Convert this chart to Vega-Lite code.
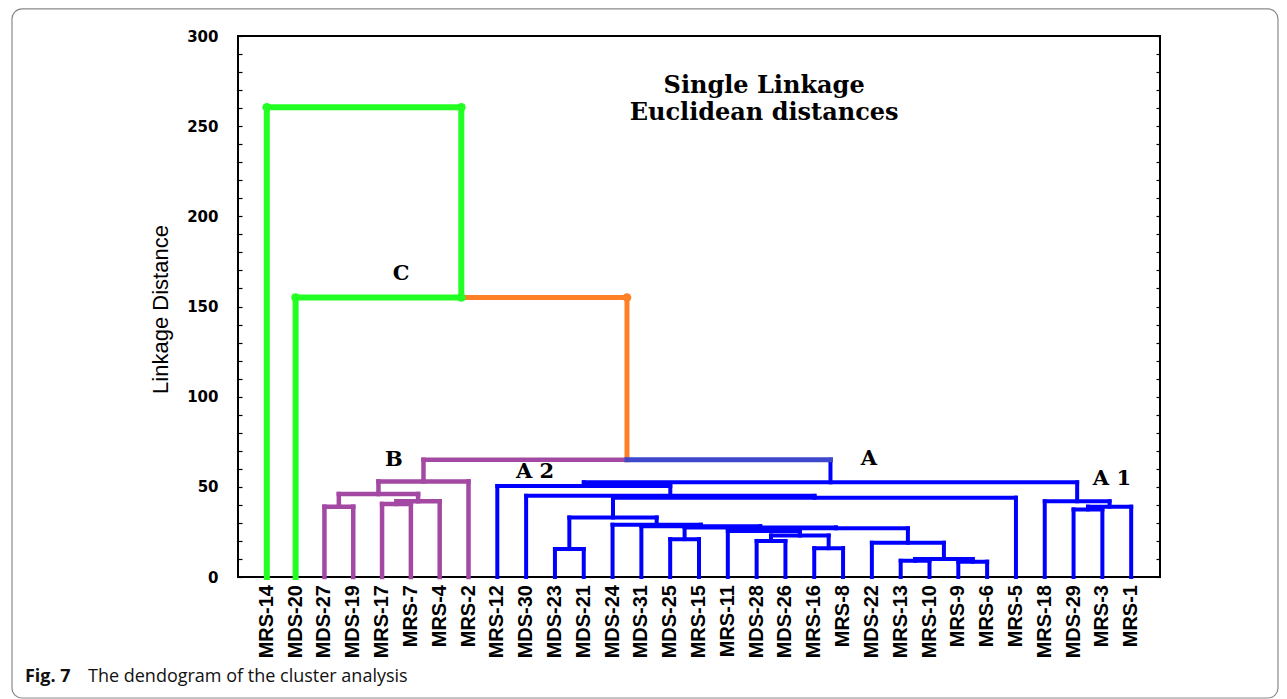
{
  "$schema": "https://vega.github.io/schema/vega-lite/v6.json",
  "width": 922,
  "height": 541,
  "autosize": {"type": "none"},
  "padding": {"left": 238, "top": 36, "right": 127, "bottom": 122},
  "background": "white",
  "config": {
    "view": {"stroke": "black", "strokeWidth": 2},
    "axis": {"grid": false, "domain": false}
  },
  "datasets": {
    "leaves": [
      {"i": 1, "name": "MRS-14"}, {"i": 2, "name": "MDS-20"}, {"i": 3, "name": "MDS-27"}, {"i": 4, "name": "MDS-19"},
      {"i": 5, "name": "MRS-17"}, {"i": 6, "name": "MRS-7"}, {"i": 7, "name": "MRS-4"}, {"i": 8, "name": "MRS-2"},
      {"i": 9, "name": "MRS-12"}, {"i": 10, "name": "MDS-30"}, {"i": 11, "name": "MDS-23"}, {"i": 12, "name": "MDS-21"},
      {"i": 13, "name": "MDS-24"}, {"i": 14, "name": "MDS-31"}, {"i": 15, "name": "MDS-25"}, {"i": 16, "name": "MRS-15"},
      {"i": 17, "name": "MRS-11"}, {"i": 18, "name": "MDS-28"}, {"i": 19, "name": "MDS-26"}, {"i": 20, "name": "MRS-16"},
      {"i": 21, "name": "MRS-8"}, {"i": 22, "name": "MDS-22"}, {"i": 23, "name": "MRS-13"}, {"i": 24, "name": "MRS-10"},
      {"i": 25, "name": "MRS-9"}, {"i": 26, "name": "MRS-6"}, {"i": 27, "name": "MRS-5"}, {"i": 28, "name": "MRS-18"},
      {"i": 29, "name": "MDS-29"}, {"i": 30, "name": "MRS-3"}, {"i": 31, "name": "MRS-1"}
    ],
    "links": [
      {"x": 1, "x2": 1, "y": 0, "y2": 260.5, "c": "green"},
      {"x": 1, "x2": 7.75, "y": 260.5, "y2": 260.5, "c": "green"},
      {"x": 7.75, "x2": 7.75, "y": 155, "y2": 260.5, "c": "green"},
      {"x": 2, "x2": 2, "y": 0, "y2": 155, "c": "green"},
      {"x": 2, "x2": 7.75, "y": 155, "y2": 155, "c": "green"},
      {"x": 7.75, "x2": 13.5, "y": 155, "y2": 155, "c": "orange"},
      {"x": 13.5, "x2": 13.5, "y": 65, "y2": 155, "c": "orange"},
      {"x": 6.4375, "x2": 13.5, "y": 65, "y2": 65, "c": "purple"},
      {"x": 6.4375, "x2": 6.4375, "y": 53, "y2": 65, "c": "purple"},
      {"x": 4.875, "x2": 8, "y": 53, "y2": 53, "c": "purple"},
      {"x": 8, "x2": 8, "y": 0, "y2": 53, "c": "purple"},
      {"x": 4.875, "x2": 4.875, "y": 46, "y2": 53, "c": "purple"},
      {"x": 3.5, "x2": 6.25, "y": 46, "y2": 46, "c": "purple"},
      {"x": 3.5, "x2": 3.5, "y": 39, "y2": 46, "c": "purple"},
      {"x": 3, "x2": 4, "y": 39, "y2": 39, "c": "purple"},
      {"x": 3, "x2": 3, "y": 0, "y2": 39, "c": "purple"},
      {"x": 4, "x2": 4, "y": 0, "y2": 39, "c": "purple"},
      {"x": 6.25, "x2": 6.25, "y": 42, "y2": 46, "c": "purple"},
      {"x": 5.5, "x2": 7, "y": 42, "y2": 42, "c": "purple"},
      {"x": 7, "x2": 7, "y": 0, "y2": 42, "c": "purple"},
      {"x": 5.5, "x2": 5.5, "y": 40.5, "y2": 42, "c": "purple"},
      {"x": 5, "x2": 6, "y": 40.5, "y2": 40.5, "c": "purple"},
      {"x": 5, "x2": 5, "y": 0, "y2": 40.5, "c": "purple"},
      {"x": 6, "x2": 6, "y": 0, "y2": 40.5, "c": "purple"},
      {"x": 13.5, "x2": 20.563, "y": 65, "y2": 65, "c": "indigo"},
      {"x": 20.563, "x2": 20.563, "y": 52.5, "y2": 65, "c": "blue"},
      {"x": 12.002, "x2": 29.125, "y": 52.5, "y2": 52.5, "c": "blue"},
      {"x": 12.002, "x2": 12.002, "y": 50.5, "y2": 52.5, "c": "blue"},
      {"x": 9, "x2": 15.004, "y": 50.5, "y2": 50.5, "c": "blue"},
      {"x": 9, "x2": 9, "y": 0, "y2": 50.5, "c": "blue"},
      {"x": 15.004, "x2": 15.004, "y": 45, "y2": 50.5, "c": "blue"},
      {"x": 10, "x2": 20.008, "y": 45, "y2": 45, "c": "blue"},
      {"x": 10, "x2": 10, "y": 0, "y2": 45, "c": "blue"},
      {"x": 20.008, "x2": 20.008, "y": 44, "y2": 45, "c": "blue"},
      {"x": 13.016, "x2": 27, "y": 44, "y2": 44, "c": "blue"},
      {"x": 27, "x2": 27, "y": 0, "y2": 44, "c": "blue"},
      {"x": 13.016, "x2": 13.016, "y": 33, "y2": 44, "c": "blue"},
      {"x": 11.5, "x2": 14.531, "y": 33, "y2": 33, "c": "blue"},
      {"x": 11.5, "x2": 11.5, "y": 15.5, "y2": 33, "c": "blue"},
      {"x": 11, "x2": 12, "y": 15.5, "y2": 15.5, "c": "blue"},
      {"x": 11, "x2": 11, "y": 0, "y2": 15.5, "c": "blue"},
      {"x": 12, "x2": 12, "y": 0, "y2": 15.5, "c": "blue"},
      {"x": 14.531, "x2": 14.531, "y": 29, "y2": 33, "c": "blue"},
      {"x": 13, "x2": 16.063, "y": 29, "y2": 29, "c": "blue"},
      {"x": 13, "x2": 13, "y": 0, "y2": 29, "c": "blue"},
      {"x": 16.063, "x2": 16.063, "y": 28.2, "y2": 29, "c": "blue"},
      {"x": 14, "x2": 18.125, "y": 28.2, "y2": 28.2, "c": "blue"},
      {"x": 14, "x2": 14, "y": 0, "y2": 28.2, "c": "blue"},
      {"x": 18.125, "x2": 18.125, "y": 27.5, "y2": 28.2, "c": "blue"},
      {"x": 15.5, "x2": 20.75, "y": 27.5, "y2": 27.5, "c": "blue"},
      {"x": 15.5, "x2": 15.5, "y": 21, "y2": 27.5, "c": "blue"},
      {"x": 15, "x2": 16, "y": 21, "y2": 21, "c": "blue"},
      {"x": 15, "x2": 15, "y": 0, "y2": 21, "c": "blue"},
      {"x": 16, "x2": 16, "y": 0, "y2": 21, "c": "blue"},
      {"x": 20.75, "x2": 20.75, "y": 27, "y2": 27.5, "c": "blue"},
      {"x": 18.25, "x2": 23.25, "y": 27, "y2": 27, "c": "blue"},
      {"x": 18.25, "x2": 18.25, "y": 25.5, "y2": 27, "c": "blue"},
      {"x": 17, "x2": 19.5, "y": 25.5, "y2": 25.5, "c": "blue"},
      {"x": 17, "x2": 17, "y": 0, "y2": 25.5, "c": "blue"},
      {"x": 19.5, "x2": 19.5, "y": 23, "y2": 25.5, "c": "blue"},
      {"x": 18.5, "x2": 20.5, "y": 23, "y2": 23, "c": "blue"},
      {"x": 18.5, "x2": 18.5, "y": 20, "y2": 23, "c": "blue"},
      {"x": 18, "x2": 19, "y": 20, "y2": 20, "c": "blue"},
      {"x": 18, "x2": 18, "y": 0, "y2": 20, "c": "blue"},
      {"x": 19, "x2": 19, "y": 0, "y2": 20, "c": "blue"},
      {"x": 20.5, "x2": 20.5, "y": 16, "y2": 23, "c": "blue"},
      {"x": 20, "x2": 21, "y": 16, "y2": 16, "c": "blue"},
      {"x": 20, "x2": 20, "y": 0, "y2": 16, "c": "blue"},
      {"x": 21, "x2": 21, "y": 0, "y2": 16, "c": "blue"},
      {"x": 23.25, "x2": 23.25, "y": 19, "y2": 27, "c": "blue"},
      {"x": 22, "x2": 24.5, "y": 19, "y2": 19, "c": "blue"},
      {"x": 22, "x2": 22, "y": 0, "y2": 19, "c": "blue"},
      {"x": 24.5, "x2": 24.5, "y": 10, "y2": 19, "c": "blue"},
      {"x": 23.5, "x2": 25.5, "y": 10, "y2": 10, "c": "blue"},
      {"x": 23.5, "x2": 23.5, "y": 9, "y2": 10, "c": "blue"},
      {"x": 23, "x2": 24, "y": 9, "y2": 9, "c": "blue"},
      {"x": 23, "x2": 23, "y": 0, "y2": 9, "c": "blue"},
      {"x": 24, "x2": 24, "y": 0, "y2": 9, "c": "blue"},
      {"x": 25.5, "x2": 25.5, "y": 8.5, "y2": 10, "c": "blue"},
      {"x": 25, "x2": 26, "y": 8.5, "y2": 8.5, "c": "blue"},
      {"x": 25, "x2": 25, "y": 0, "y2": 8.5, "c": "blue"},
      {"x": 26, "x2": 26, "y": 0, "y2": 8.5, "c": "blue"},
      {"x": 29.125, "x2": 29.125, "y": 42, "y2": 52.5, "c": "blue"},
      {"x": 28, "x2": 30.25, "y": 42, "y2": 42, "c": "blue"},
      {"x": 28, "x2": 28, "y": 0, "y2": 42, "c": "blue"},
      {"x": 30.25, "x2": 30.25, "y": 39, "y2": 42, "c": "blue"},
      {"x": 29.5, "x2": 31, "y": 39, "y2": 39, "c": "blue"},
      {"x": 31, "x2": 31, "y": 0, "y2": 39, "c": "blue"},
      {"x": 29.5, "x2": 29.5, "y": 37.5, "y2": 39, "c": "blue"},
      {"x": 29, "x2": 30, "y": 37.5, "y2": 37.5, "c": "blue"},
      {"x": 29, "x2": 29, "y": 0, "y2": 37.5, "c": "blue"},
      {"x": 30, "x2": 30, "y": 0, "y2": 37.5, "c": "blue"}
    ],
    "nodes": [
      {"x": 1, "y": 260.5, "c": "green"},
      {"x": 7.75, "y": 260.5, "c": "green"},
      {"x": 7.75, "y": 155, "c": "green"},
      {"x": 2, "y": 155, "c": "green"},
      {"x": 13.5, "y": 155, "c": "orange"}
    ]
  },
  "layer": [
    {
      "data": {"values": [{}]},
      "mark": {"type": "rect", "fill": null, "stroke": "#8a8a8a", "strokeWidth": 1.2, "cornerRadius": 10, "clip": false},
      "encoding": {
        "x": {"datum": -7.844, "type": "quantitative", "axis": null},
        "x2": {"datum": 36.095},
        "y": {"datum": 315.0, "type": "quantitative", "axis": null},
        "y2": {"datum": -67.1}
      }
    },
    {
      "data": {"name": "links"},
      "transform": [{"filter": "datum.c == 'green'"}],
      "mark": {"type": "rule", "strokeWidth": 6, "strokeCap": "square"},
      "encoding": {
        "x": {
          "field": "x", "type": "quantitative",
          "scale": {"domain": [0, 32], "nice": false, "zero": false},
          "axis": {
            "orient": "bottom",
            "values": [1,2,3,4,5,6,7,8,9,10,11,12,13,14,15,16,17,18,19,20,21,22,23,24,25,26,27,28,29,30,31],
            "labels": false,
            "tickSize": -4,
            "tickColor": "black",
            "tickWidth": 1.5,
            "title": null
          }
        },
        "x2": {"field": "x2"},
        "y": {
          "field": "y", "type": "quantitative",
          "scale": {"domain": [0, 300], "nice": false, "zero": false},
          "axis": {
            "orient": "left",
            "values": [0,10,20,30,40,50,60,70,80,90,100,110,120,130,140,150,160,170,180,190,200,210,220,230,240,250,260,270,280,290,300],
            "labelExpr": "datum.value % 50 == 0 ? datum.label : ''",
            "labelFont": "DejaVu Sans",
            "labelFontWeight": "bold",
            "labelFontSize": 15,
            "labelColor": "black",
            "labelPadding": 24,
            "labelOverlap": false,
            "labelFlush": false,
            "labelBound": false,
            "tickSize": -4,
            "tickColor": "black",
            "tickWidth": 1.2,
            "title": "Linkage Distance",
            "titleFont": "Liberation Sans",
            "titleFontSize": 22,
            "titleFontWeight": "normal",
            "titleColor": "black",
            "titleAngle": -90,
            "titleAlign": "center",
            "titleBaseline": "middle",
            "titleX": -78,
            "titleY": 273
          }
        },
        "y2": {"field": "y2"},
        "color": {
          "field": "c", "type": "nominal", "legend": null,
          "scale": {"domain": ["green", "orange", "purple", "indigo", "blue"], "range": ["#22ff22", "#ff7f27", "#a349a4", "#3f48cc", "#0000ff"]}
        }
      }
    },
    {
      "data": {"name": "links"},
      "transform": [{"filter": "datum.c == 'orange'"}],
      "mark": {"type": "rule", "strokeWidth": 5, "strokeCap": "square"},
      "encoding": {
        "x": {"field": "x", "type": "quantitative", "axis": null},
        "x2": {"field": "x2"},
        "y": {"field": "y", "type": "quantitative", "axis": null},
        "y2": {"field": "y2"},
        "color": {"field": "c", "type": "nominal", "legend": null}
      }
    },
    {
      "data": {"name": "links"},
      "transform": [{"filter": "datum.c == 'purple'"}],
      "mark": {"type": "rule", "strokeWidth": 4.5, "strokeCap": "square"},
      "encoding": {
        "x": {"field": "x", "type": "quantitative", "axis": null},
        "x2": {"field": "x2"},
        "y": {"field": "y", "type": "quantitative", "axis": null},
        "y2": {"field": "y2"},
        "color": {"field": "c", "type": "nominal", "legend": null}
      }
    },
    {
      "data": {"name": "links"},
      "transform": [{"filter": "datum.c == 'blue'"}],
      "mark": {"type": "rule", "strokeWidth": 4, "strokeCap": "square"},
      "encoding": {
        "x": {"field": "x", "type": "quantitative", "axis": null},
        "x2": {"field": "x2"},
        "y": {"field": "y", "type": "quantitative", "axis": null},
        "y2": {"field": "y2"},
        "color": {"field": "c", "type": "nominal", "legend": null}
      }
    },
    {
      "data": {"name": "links"},
      "transform": [{"filter": "datum.c == 'indigo'"}],
      "mark": {"type": "rule", "strokeWidth": 5, "strokeCap": "square"},
      "encoding": {
        "x": {"field": "x", "type": "quantitative", "axis": null},
        "x2": {"field": "x2"},
        "y": {
          "field": "y", "type": "quantitative",
          "axis": {
            "orient": "right",
            "values": [0,10,20,30,40,50,60,70,80,90,100,110,120,130,140,150,160,170,180,190,200,210,220,230,240,250,260,270,280,290,300],
            "labels": false,
            "tickSize": -4,
            "tickColor": "black",
            "tickWidth": 1.2,
            "title": null
          }
        },
        "y2": {"field": "y2"},
        "color": {"field": "c", "type": "nominal", "legend": null}
      }
    },
    {
      "data": {"name": "nodes"},
      "mark": {"type": "point", "filled": true, "opacity": 1, "size": 75, "shape": "circle"},
      "encoding": {
        "x": {"field": "x", "type": "quantitative", "axis": null},
        "y": {"field": "y", "type": "quantitative", "axis": null},
        "color": {"field": "c", "type": "nominal", "legend": null}
      }
    },
    {
      "data": {"name": "leaves"},
      "mark": {"type": "text", "angle": 270, "align": "right", "baseline": "middle", "dx": -8, "font": "Liberation Sans", "fontWeight": "bold", "fontSize": 20, "color": "black", "clip": false},
      "encoding": {
        "x": {"field": "i", "type": "quantitative", "axis": null},
        "y": {"datum": 0, "type": "quantitative", "axis": null},
        "text": {"field": "name", "type": "nominal"}
      }
    },
    {
      "data": {"values": [{}]},
      "mark": {"type": "text", "text": "Single Linkage", "font": "DejaVu Serif", "fontWeight": "bold", "fontSize": 24, "align": "center", "baseline": "alphabetic", "color": "black"},
      "encoding": {
        "x": {"datum": 18.26, "type": "quantitative", "axis": null},
        "y": {"datum": 268.4, "type": "quantitative", "axis": null}
      }
    },
    {
      "data": {"values": [{}]},
      "mark": {"type": "text", "text": "Euclidean distances", "font": "DejaVu Serif", "fontWeight": "bold", "fontSize": 24, "align": "center", "baseline": "alphabetic", "color": "black"},
      "encoding": {
        "x": {"datum": 18.26, "type": "quantitative", "axis": null},
        "y": {"datum": 253.5, "type": "quantitative", "axis": null}
      }
    },
    {
      "data": {"values": [{}]},
      "mark": {"type": "text", "text": "C", "font": "DejaVu Serif", "fontWeight": "bold", "fontSize": 21, "align": "center", "baseline": "alphabetic", "color": "black"},
      "encoding": {
        "x": {"datum": 5.66, "type": "quantitative", "axis": null},
        "y": {"datum": 164.7, "type": "quantitative", "axis": null}
      }
    },
    {
      "data": {"values": [{}]},
      "mark": {"type": "text", "text": "B", "font": "DejaVu Serif", "fontWeight": "bold", "fontSize": 21, "align": "center", "baseline": "alphabetic", "color": "black"},
      "encoding": {
        "x": {"datum": 5.41, "type": "quantitative", "axis": null},
        "y": {"datum": 61.5, "type": "quantitative", "axis": null}
      }
    },
    {
      "data": {"values": [{}]},
      "mark": {"type": "text", "text": "A 2", "font": "DejaVu Serif", "fontWeight": "bold", "fontSize": 21, "align": "center", "baseline": "alphabetic", "color": "black"},
      "encoding": {
        "x": {"datum": 10.31, "type": "quantitative", "axis": null},
        "y": {"datum": 54.9, "type": "quantitative", "axis": null}
      }
    },
    {
      "data": {"values": [{}]},
      "mark": {"type": "text", "text": "A", "font": "DejaVu Serif", "fontWeight": "bold", "fontSize": 21, "align": "center", "baseline": "alphabetic", "color": "black"},
      "encoding": {
        "x": {"datum": 21.9, "type": "quantitative", "axis": null},
        "y": {"datum": 62.1, "type": "quantitative", "axis": null}
      }
    },
    {
      "data": {"values": [{}]},
      "mark": {"type": "text", "text": "A 1", "font": "DejaVu Serif", "fontWeight": "bold", "fontSize": 21, "align": "center", "baseline": "alphabetic", "color": "black"},
      "encoding": {
        "x": {"datum": 30.33, "type": "quantitative", "axis": null},
        "y": {"datum": 51.0, "type": "quantitative", "axis": null}
      }
    },
    {
      "data": {"values": [{}]},
      "mark": {"type": "text", "text": "Fig. 7", "font": "Open Sans", "fontWeight": "bold", "fontSize": 18, "align": "left", "baseline": "alphabetic", "color": "#111111", "clip": false},
      "encoding": {
        "x": {"datum": -7.393, "type": "quantitative", "axis": null},
        "y": {"datum": -58.2, "type": "quantitative", "axis": null}
      }
    },
    {
      "data": {"values": [{}]},
      "mark": {"type": "text", "text": "The dendogram of the cluster analysis", "font": "Open Sans", "fontWeight": "normal", "fontSize": 18, "align": "left", "baseline": "alphabetic", "color": "#111111", "clip": false},
      "encoding": {
        "x": {"datum": -5.206, "type": "quantitative", "axis": null},
        "y": {"datum": -58.2, "type": "quantitative", "axis": null}
      }
    }
  ]
}
